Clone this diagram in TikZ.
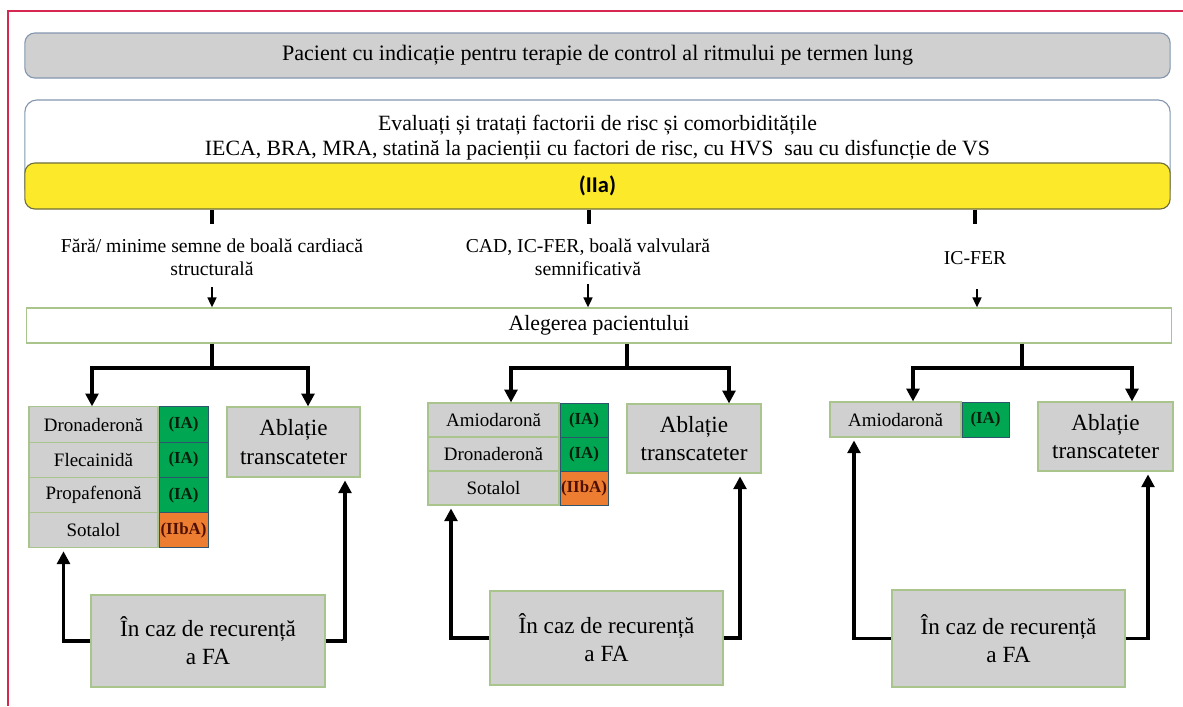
\documentclass[tikz,border=0pt]{standalone}
\usepackage{fontspec}
\setmainfont{Liberation Serif}
\newfontfamily\calfont{Carlito}
\usetikzlibrary{arrows.meta,positioning}

\definecolor{boxgray}{RGB}{208,208,208}
\definecolor{bluegray}{RGB}{132,151,176}
\definecolor{lightgreen}{RGB}{169,196,140}
\definecolor{classgreen}{RGB}{0,166,81}
\definecolor{classorange}{RGB}{237,125,49}
\definecolor{celledge}{RGB}{46,84,110}
\definecolor{iatext}{RGB}{8,30,12}
\definecolor{iibtext}{RGB}{80,16,0}
\definecolor{iiayellow}{RGB}{252,234,42}
\definecolor{barline}{RGB}{110,110,60}
\definecolor{framered}{RGB}{214,40,80}

\begin{document}
\begin{tikzpicture}[x=0.025cm, y=-0.025cm,
    titlebox/.style={draw=bluegray, fill=boxgray, rounded corners=0.25cm, line width=0.8pt, minimum width=28.625cm, minimum height=1.125cm, font=\fontsize{15.7}{18}\selectfont},
    evalbox/.style={draw=bluegray, fill=white, rounded corners=0.3cm, line width=0.8pt, minimum width=28.625cm, minimum height=2.5cm},
    classbar/.style={draw=barline, fill=iiayellow, rounded corners=0.25cm, line width=0.8pt, minimum width=28.625cm, minimum height=1.15cm, font=\calfont\fontsize{16}{18}\bfseries\selectfont},
    condtext/.style={align=center, font=\fontsize{14}{16.5}\selectfont},
    choicebox/.style={draw=lightgreen, fill=white, line width=0.8pt, minimum width=28.6cm, minimum height=0.875cm, font=\fontsize{15.5}{18}\selectfont},
    drugbox/.style={draw=lightgreen, fill=boxgray, line width=0.8pt, inner sep=0pt, font=\fontsize{13.5}{16}\selectfont},
    iacell/.style={draw=celledge, fill=classgreen, line width=0.6pt, inner sep=0pt, text=iatext, font=\fontsize{12}{14}\bfseries\selectfont},
    iibcell/.style={iacell, fill=classorange, text=iibtext},
    ablbox/.style={draw=lightgreen, fill=boxgray, line width=0.8pt, align=center, font=\fontsize{16.5}{20.5}\selectfont},
    recbox/.style={draw=lightgreen, fill=boxgray, line width=0.8pt, align=center, minimum width=5.85cm, font=\fontsize{16.5}{20}\selectfont},
    stub/.style={line width=2.5pt},
    thinarr/.style={line width=1.5pt, -{Triangle[length=0.25cm, width=0.22cm]}},
    bracketline/.style={line width=2.2pt},
    arr/.style={line width=2.2pt, -{Triangle[length=0.32cm, width=0.32cm]}},
    recarr/.style={line width=2.6pt, -{Triangle[length=0.32cm, width=0.32cm]}},
    pageframe/.style={draw=framered, line width=1pt}]

    \useasboundingbox (0, 0) rectangle (1183, 706);
    \draw[pageframe] (8, 706) -- (8, 11) -- (1183, 11);

    % Nodes (top)
    \node[titlebox] at (597.5, 55.5) (title) {Pacient cu indicație pentru terapie de control al ritmului pe termen lung};
    \node[evalbox] at (597.5, 150) (eval) {};
    \node[align=center, font=\fontsize{15.5}{17.7}\selectfont] at (597.5, 138) (evaltxt) {Evaluați și tratați factorii de risc și comorbiditățile\\IECA, BRA, MRA, statină la pacienții cu factori de risc, cu HVS\ \ sau cu disfuncție de VS};
    \node[classbar] at (597.5, 186) (iia) {(IIa)};

    \node[condtext] at (212, 257) (lblA) {Fără/ minime semne de boală cardiacă\\structurală};
    \node[condtext] at (588, 257) (lblB) {CAD, IC-FER, boală valvulară\\semnificativă};
    \node[condtext] at (975, 258) (lblC) {IC-FER};

    \node[choicebox] at (599, 325.5) (choice) {Alegerea pacientului};

    % Nodes (left: fara boala structurala)
    \node[drugbox, minimum width=3.225cm, minimum height=0.88cm] at (93.5, 424.5) (dA1) {Dronaderonă};
    \node[drugbox, minimum width=3.225cm, minimum height=0.88cm] at (93.5, 459.75) (dA2) {Flecainidă};
    \node[drugbox, minimum width=3.225cm, minimum height=0.88cm] at (93.5, 495) (dA3) {Propafenonă};
    \node[drugbox, minimum width=3.225cm, minimum height=0.88cm] at (93.5, 530.25) (dA4) {Sotalol};
    \node[iacell, minimum width=1.225cm, minimum height=0.88cm, right=0pt of dA1] (cA1) {(IA)};
    \node[iacell, minimum width=1.225cm, minimum height=0.88cm, right=0pt of dA2] (cA2) {(IA)};
    \node[iacell, minimum width=1.225cm, minimum height=0.88cm, right=0pt of dA3] (cA3) {(IA)};
    \node[iibcell, minimum width=1.225cm, minimum height=0.88cm, right=0pt of dA4] (cA4) {(IIbA)};
    \node[ablbox, minimum width=3.325cm, minimum height=1.75cm] at (293.5, 442) (ablA) {Ablație\\transcateter};
    \node[recbox, minimum height=2.3cm] at (208, 641) (recA) {În caz de recurență\\a FA};

    % Nodes (middle: CAD, IC-FER)
    \node[drugbox, minimum width=3.275cm, minimum height=0.85cm] at (493.5, 420) (dB1) {Amiodaronă};
    \node[drugbox, minimum width=3.275cm, minimum height=0.85cm] at (493.5, 454) (dB2) {Dronaderonă};
    \node[drugbox, minimum width=3.275cm, minimum height=0.85cm] at (493.5, 488) (dB3) {Sotalol};
    \node[iacell, minimum width=1.2cm, minimum height=0.85cm, right=0pt of dB1] (cB1) {(IA)};
    \node[iacell, minimum width=1.2cm, minimum height=0.85cm, right=0pt of dB2] (cB2) {(IA)};
    \node[iibcell, minimum width=1.2cm, minimum height=0.85cm, right=0pt of dB3] (cB3) {(IIbA)};
    \node[ablbox, minimum width=3.35cm, minimum height=1.725cm] at (694, 438.5) (ablB) {Ablație\\transcateter};
    \node[recbox, minimum width=5.825cm, minimum height=2.35cm] at (606.5, 638) (recB) {În caz de recurență\\a FA};

    % Nodes (right: IC-FER)
    \node[drugbox, minimum width=3.275cm, minimum height=0.875cm] at (895.5, 419.5) (dC1) {Amiodaronă};
    \node[iacell, minimum width=1.175cm, minimum height=0.875cm, right=0pt of dC1] (cC1) {(IA)};
    \node[ablbox, minimum width=3.375cm, minimum height=1.725cm] at (1105.5, 436.5) (ablC) {Ablație\\transcateter};
    \node[recbox, minimum width=5.825cm, minimum height=2.425cm] at (1008.5, 638.5) (recC) {În caz de recurență\\a FA};

    % stubs under (IIa) and small arrows
    \coordinate (tkA) at (212, 224);
    \coordinate (tkB) at (589, 224);
    \coordinate (tkC) at (975, 224);
    \draw[stub] (iia.south -| tkA) -- (tkA);
    \draw[stub] (iia.south -| tkB) -- (tkB);
    \draw[stub] (iia.south -| tkC) -- (tkC);

    \coordinate (arA) at (212, 287);
    \coordinate (arB) at (588, 284);
    \coordinate (arC) at (977, 289);
    \draw[thinarr] (arA) -- (arA |- choice.north);
    \draw[thinarr] (arB) -- (arB |- choice.north);
    \draw[thinarr] (arC) -- (arC |- choice.north);

    % brackets
    \coordinate (bA) at (212, 368);
    \coordinate (aAl) at (92, 368);
    \coordinate (aAr) at (308, 368);
    \coordinate (bB) at (627, 368);
    \coordinate (aBl) at (511, 368);
    \coordinate (aBr) at (729, 368);
    \coordinate (bC) at (1022, 368);
    \coordinate (aCl) at (913, 368);
    \coordinate (aCr) at (1132, 368);

    \draw[bracketline] (choice.south -| bA) -- (bA);
    \draw[bracketline] (choice.south -| bB) -- (bB);
    \draw[bracketline] (choice.south -| bC) -- (bC);
    \draw[bracketline, line cap=rect] (aAl) -- (aAr);
    \draw[bracketline, line cap=rect] (aBl) -- (aBr);
    \draw[bracketline, line cap=rect] (aCl) -- (aCr);
    \draw[arr] (aAl) -- (aAl |- dA1.north);
    \draw[arr] (aAr) -- (aAr |- ablA.north);
    \draw[arr] (aBl) -- (aBl |- dB1.north);
    \draw[arr] (aBr) -- (aBr |- ablB.north);
    \draw[arr] (aCl) -- (aCl |- dC1.north);
    \draw[arr] (aCr) -- (aCr |- ablC.north);

    % recurenta
    \draw[recarr] (recA.west) -| ([xshift=-0.75cm, yshift=-2pt]dA4.south);
    \draw[recarr] (recA.east) -| ([xshift=1.2875cm, yshift=-2pt]ablA.south);
    \draw[recarr] (recB.west) -| ([xshift=-1.0625cm, yshift=-2pt]dB3.south);
    \draw[recarr] (recB.east) -| ([xshift=1.15cm, yshift=-2pt]ablB.south);
    \draw[recarr] (recC.west) -| ([xshift=-1.0375cm, yshift=-2pt]dC1.south);
    \draw[recarr] (recC.east) -| ([xshift=1.0625cm, yshift=-2pt]ablC.south);

  \end{tikzpicture}
\end{document}
